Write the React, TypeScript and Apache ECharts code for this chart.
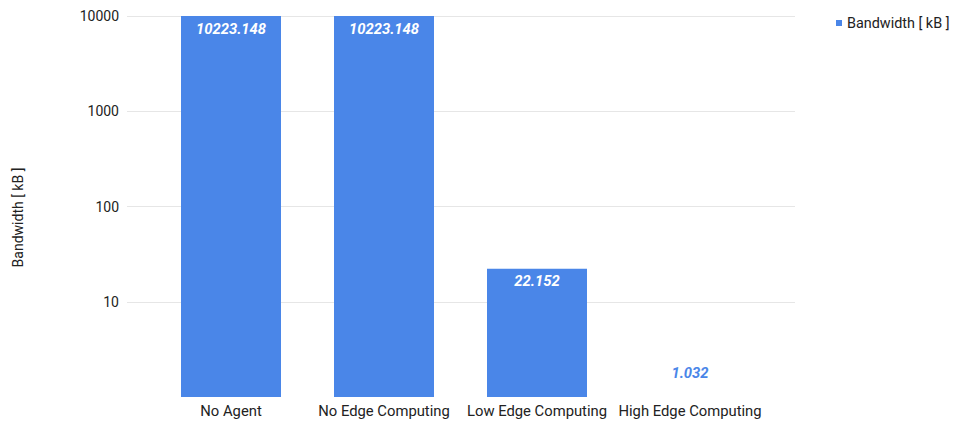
import React, { useEffect, useRef } from "react";
import * as echarts from "echarts";

const categories = ["No Agent", "No Edge Computing", "Low Edge Computing", "High Edge Computing"];
const bandwidth = [10223.148, 10223.148, 22.152, 1.032];
const seriesName = "Bandwidth [ kB ]";
const yAxisName = "Bandwidth [ kB ]";

const BLUE = "#4a86e8";
const TEXT = "#222222";
const FONT = "Roboto";

export default function App() {
  const ref = useRef<HTMLDivElement>(null);
  useEffect(() => {
    if (!ref.current) return;
    const chart = echarts.init(ref.current, undefined, { renderer: "svg" });
    const data = bandwidth.map((v) => {
      if (v < 2) {
        return {
          value: v,
          itemStyle: { color: "rgba(0,0,0,0)" },
          label: {
            show: true,
            position: "top",
            distance: 15,
            color: BLUE,
          },
        };
      }
      return { value: v };
    });
    chart.setOption({
      animation: false,
      textStyle: { fontFamily: FONT },
      legend: {
        data: [seriesName],
        left: 831,
        top: 11,
        icon: "rect",
        itemWidth: 6,
        itemHeight: 6,
        itemGap: 5,
        itemStyle: { color: BLUE },
        textStyle: { color: TEXT, fontSize: 14.4, fontFamily: FONT },
      },
      grid: [
        { left: 127, right: 158, top: 16, bottom: 27, containLabel: false },
        { left: 154.5, right: 186.5, top: 16, bottom: 27, containLabel: false },
      ],
      xAxis: [
        {
          type: "category",
          gridIndex: 0,
          data: categories,
          show: false,
        },
        {
          type: "category",
          gridIndex: 1,
          data: categories,
          axisLine: { show: false },
          axisTick: { show: false },
          axisLabel: { color: TEXT, fontSize: 14.8, fontFamily: FONT, margin: 6, interval: 0 },
        },
      ],
      yAxis: [
        {
          type: "log",
          gridIndex: 0,
          logBase: 10,
          min: 1,
          max: 10000,
          name: yAxisName,
          nameLocation: "middle",
          nameGap: 102,
          nameTextStyle: { color: TEXT, fontSize: 14, fontFamily: FONT, padding: [0, 22, 0, 0] },
          axisLine: { show: false },
          axisTick: { show: false },
          axisLabel: {
            color: TEXT,
            fontSize: 14,
            fontFamily: FONT,
            margin: 8,
            showMinLabel: false,
            formatter: (v: number) => (v <= 1 ? "" : String(v)),
          },
          splitLine: { show: true, showMinLine: false, lineStyle: { color: "#e6e6e6", width: 1 } },
        },
        {
          type: "log",
          gridIndex: 1,
          logBase: 10,
          min: 1,
          max: 10000,
          show: false,
          splitLine: { show: false },
        },
      ],
      series: [
        {
          name: seriesName,
          type: "bar",
          xAxisIndex: 1,
          yAxisIndex: 1,
          barWidth: 100,
          data,
          itemStyle: { color: BLUE },
          label: {
            show: true,
            position: "insideTop",
            distance: 5,
            color: "#ffffff",
            fontSize: 14.8,
            fontWeight: "bold",
            fontStyle: "italic",
            fontFamily: FONT,
            formatter: (p: any) => String(p.value),
          },
        },
      ],
    });
    return () => chart.dispose();
  }, []);
  return <div ref={ref} style={{ width: 953, height: 424, position: "absolute", left: 0, top: 0 }} />;
}
